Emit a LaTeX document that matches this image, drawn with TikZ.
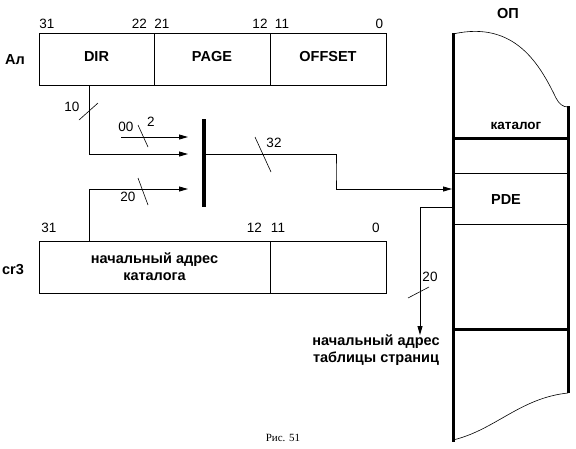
\documentclass[tikz,border=0pt]{standalone}
\usepackage{fontspec}
\setmainfont{Liberation Sans}
\newfontfamily\capfont{Liberation Serif}
\usetikzlibrary{arrows.meta}

\begin{document}
\begin{tikzpicture}
    [x=1pt,y=-1pt,
    font=\fontsize{13.5}{15}\selectfont,
    field/.style={shape=rectangle,draw=black,line width=0.8pt,inner sep=0pt,minimum height=52pt,font=\fontsize{14.5}{17}\selectfont\bfseries},
    bit/.style={inner sep=0pt},
    regname/.style={inner sep=0pt,font=\fontsize{14.5}{17}\selectfont\bfseries},
    arc/.style={-{Triangle[length=9pt,width=5pt]},line width=0.8pt},
    edge/.style={line width=0.8pt},
    bus/.style={line width=0.6pt},
    mem/.style={line width=3pt}]

    \useasboundingbox (0,0) rectangle (576,448);

    % linear address
    \node (al) [regname] at (15,60) {Ал};
    \node (dir) [field,minimum width=115pt,text depth=5pt] at (96.5,59) {DIR};
    \node (page) [field,minimum width=116pt,text depth=5pt] at (212,59) {PAGE};
    \node (offset) [field,minimum width=116pt,text depth=5pt] at (328,59) {OFFSET};
    \node (b31) [bit] at (47,23.5) {31};
    \node (b22) [bit] at (139.5,23.5) {22};
    \node (b21) [bit] at (162,23.5) {21};
    \node (b12) [bit] at (260,23.5) {12};
    \node (b11) [bit] at (282,23.5) {11};
    \node (b0) [bit] at (379.5,23.5) {0};

    % cr3
    \node (cr) [regname] at (13,270) {cr3};
    \node (base) [field,minimum width=231pt,align=center] at (154.5,267) {начальный адрес\\каталога};
    \node (low) [field,minimum width=116pt] at (328,267) {};
    \node (c31) [bit] at (49,228) {31};
    \node (c12) [bit] at (254.5,228) {12};
    \node (c11) [bit] at (278,228) {11};
    \node (c0) [bit] at (376,228) {0};

    % multiplexer
    \node (mux) [fill=black,minimum width=4pt,minimum height=88pt,inner sep=0pt] at (204,163) {};
    \coordinate (zero) at (121,137);
    \coordinate (in1) at (188,137);
    \coordinate (in2) at (188,154);
    \coordinate (in3) at (188,189);
    \coordinate (bend) at (336,172);
    \coordinate (pdein) at (452,189);
    \coordinate (pdeout) at (452,207);

    \draw [arc] (zero) -- (in1);
    \draw [arc] ([xshift=-7.5pt]dir.south) |- (in2);
    \draw [arc] ([xshift=-65.5pt]base.north) |- (in3);
    \draw [arc] (mux.east |- in2) -| (bend) |- (pdein);

    \node (tbl) [regname,align=center,anchor=north] at (376,335) {начальный адрес\\таблицы страниц};
    \draw [arc] (pdeout) -| ([xshift=44pt]tbl.north);

    % bus widths
    \draw [bus] (79,120) -- (98,103);
    \node (w10) [bit] at (72,107) {10};
    \node (w00) [bit] at (126,127) {00};
    \draw [bus] (138,125) -- (148,147);
    \node (w2) [bit] at (151,122) {2};
    \draw [bus] (138,178) -- (148,205);
    \node (w20) [bit] at (128,197) {20};
    \draw [bus] (255,137) -- (271,172);
    \node (w32) [bit] at (274,143) {32};
    \draw [bus] (408,298) -- (429,287);
    \node (wt) [bit] at (430,277) {20};

    % memory
    \draw [mem] (453,33) -- (453,442);
    \draw [mem] (568,106) -- (568,393);
    \draw [bus] (453,34) .. controls (515,20) and (540,65) .. (556,98) .. controls (559,104) and (563,107) .. (568,107);
    \draw [bus] (453,440) .. controls (495,430) and (520,398) .. (568,393);
    \draw [mem] (453,138) -- (568,138);
    \draw [edge] (453,173) -- (568,173);
    \draw [edge] (453,224) -- (568,224);
    \draw [mem] (453,329) -- (568,329);
    \node (op) [regname] at (508,14) {ОП};
    \node (cat) [regname,font=\fontsize{13.5}{16}\selectfont\bfseries] at (516,126) {каталог};
    \node (pde) [regname] at (506,200) {PDE};

    \node (fig) [font=\capfont\fontsize{11}{13}\selectfont] at (283,438) {Рис. 51};
\end{tikzpicture}
\end{document}
